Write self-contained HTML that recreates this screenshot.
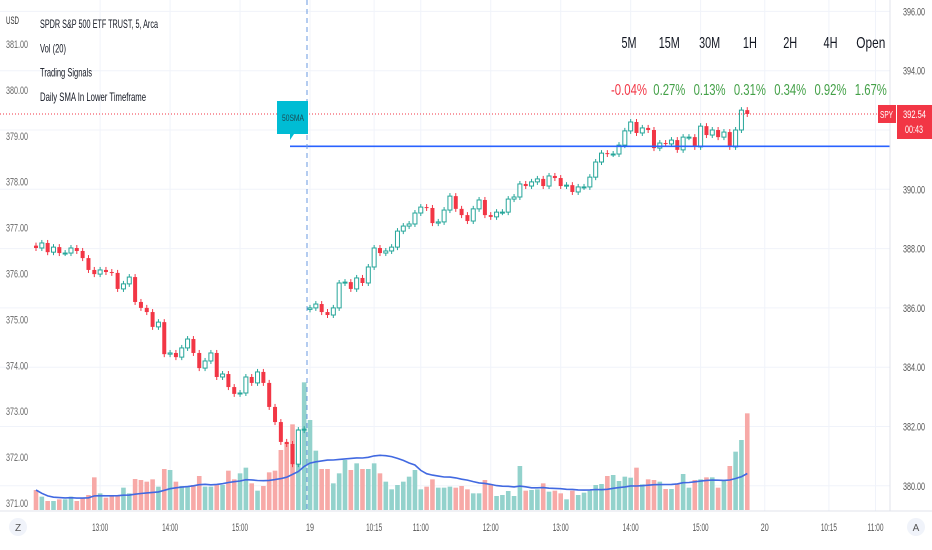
<!DOCTYPE html>
<html><head><meta charset="utf-8"><style>
html,body{margin:0;padding:0;background:#fff;width:932px;height:550px;overflow:hidden;font-family:"Liberation Sans",sans-serif}
svg{display:block}
</style></head><body>
<svg id="c" width="932" height="550" xmlns="http://www.w3.org/2000/svg"></svg>
<script>
const closes=[388.02,388.19,387.88,388.05,387.85,387.85,388.02,387.92,387.68,387.28,387.14,387.28,387.21,387.18,386.64,386.81,387.04,386.20,386.00,385.86,385.36,385.52,384.44,384.48,384.34,384.65,384.95,384.48,383.97,384.21,384.48,383.67,383.77,383.33,383.10,383.13,383.67,383.47,383.84,383.47,382.66,382.15,381.48,381.41,380.73,381.88,381.91,
386.00,386.13,385.86,385.76,386.00,386.84,386.87,386.64,387.01,386.84,387.38,388.02,387.85,387.92,388.05,388.59,388.76,388.83,389.20,389.40,389.37,388.86,388.90,389.30,389.77,389.34,389.13,388.93,389.34,389.64,389.13,389.07,389.23,389.23,389.67,389.74,390.18,390.11,390.25,390.35,390.11,390.45,390.38,390.11,390.14,389.91,390.08,390.08,390.41,390.92,391.22,391.19,391.19,391.49,391.97,392.27,391.90,392.07,392.00,391.39,391.56,391.53,391.66,391.33,391.76,391.76,391.43,392.13,391.83,392.00,391.76,391.93,391.43,392.00,392.67,392.54];
const firstOpen=388.1;
const day2Open=385.95;
const day2Index=47;
const volumes=[60,40,27,27,32,32,40,27,37,45,98,50,37,45,45,67,50,93,90,85,92,70,123,120,85,72,72,75,102,70,70,75,75,118,92,110,127,80,58,72,113,118,180,202,257,242,383,
270,178,123,123,80,110,150,120,140,123,123,140,110,85,62,75,85,100,120,62,70,92,67,67,70,67,72,62,50,50,90,78,42,45,57,42,132,58,60,62,80,55,58,50,32,58,45,52,58,75,78,102,105,87,100,97,127,77,92,90,85,63,63,78,108,67,90,92,98,98,67,90,132,175,210,290];
const rightTicks=[396,394,392,390,388,386,384,382,380];
const leftTicks=[381,380,379,378,377,376,375,374,373,372,371];
const timeLabels=["13:00","14:00","15:00","19","10:15","11:00","12:00","13:00","14:00","15:00","20","10:15","11:00"];
const timeSlots=[11,23,35,47,58,66,78,90,102,114,125,136,144];
const tfNames=["5M","15M","30M","1H","2H","4H","Open"];
const tfValues=[-0.04,0.27,0.13,0.31,0.34,0.92,1.67];
const smaLevel=391.45;
const lastPrice=392.54;

const NS="http://www.w3.org/2000/svg";
const svg=document.getElementById('c');
const y=p=>130-(p-392)*29.65;
const yl=p=>44+(381-p)*45.9;
const x=i=>36+i*5.83;
const vy=v=>510-v/3;
function el(tag,a,parent){const e=document.createElementNS(NS,tag);for(const k in a)e.setAttribute(k,a[k]);(parent||svg).appendChild(e);return e;}
function tx(s,a,parent,len){const e=el('text',a,parent);e.textContent=s;if(len){e.setAttribute('textLength',len);e.setAttribute('lengthAdjust','spacingAndGlyphs');}return e;}

// grid
const grid=el('g',{});


rightTicks.forEach(t=>el('line',{x1:0,x2:890,y1:y(t),y2:y(t),stroke:'#f0f3fa','stroke-width':1},grid));
timeSlots.forEach(s=>el('line',{x1:x(s),x2:x(s),y1:0,y2:511,stroke:'#f0f3fa','stroke-width':1},grid));

// volume
const vg=el('g',{});


const opens=closes.map((c,i)=>i===0?firstOpen:(i===day2Index?day2Open:closes[i-1]));
volumes.forEach((v,i)=>{const up=closes[i]>=opens[i];
 const r=el('rect',{x:x(i)-2.3,y:vy(v),width:4.6,height:v/3,fill:up?'#93d2cc':'#f7a9a7'},vg);
 
 });
let pts=[];
volumes.forEach((v,i)=>{const s=volumes.slice(Math.max(0,i-19),i+1);const m=s.reduce((a,b)=>a+b,0)/s.length;pts.push(x(i).toFixed(1)+','+vy(m).toFixed(1));});
const ma=el('polyline',{points:pts.join(' '),fill:'none',stroke:'#4169e1','stroke-width':1.6});



// candles
const cg=el('g',{});


closes.forEach((c,i)=>{const o=opens[i];const up=c>=o;const col=up?'#26a69a':'#f23645';
 const top=Math.min(y(o),y(c)),bot=Math.max(y(o),y(c));
 el('line',{x1:x(i),x2:x(i),y1:top-3,y2:bot+3,stroke:col,'stroke-width':1},cg);
 const r=el('rect',{x:x(i)-2,y:top,width:4,height:Math.max(1,bot-top),fill:up?'#fff':col,stroke:col,'stroke-width':up?1:0},cg);
 
 });

// lines
const dl=el('line',{x1:0,x2:890,y1:y(lastPrice),y2:y(lastPrice),stroke:'#f23645','stroke-width':1,'stroke-dasharray':'1,2'});


const sl=el('line',{x1:290,x2:890,y1:y(smaLevel),y2:y(smaLevel),stroke:'#2962ff','stroke-width':1.6});


const vl=el('line',{x1:307,x2:307,y1:0,y2:511,stroke:'#6a9ae0','stroke-width':1,'stroke-dasharray':'5,4'});


const lab=el('g',{});


el('path',{d:'M277,101 h31 v33 h-14 l-4,6 v-6 h-13 z',fill:'#00bcd4'},lab);
tx('50SMA',{x:282,y:121,'font-size':9,fill:'#1a4b55'},lab,22);

// axes
el('line',{x1:0,x2:932,y1:511,y2:511,stroke:'#e0e3eb'});
el('line',{x1:890,x2:890,y1:0,y2:511,stroke:'#e0e3eb'});
const ra=el('g',{'font-size':11,fill:'#555'});


rightTicks.forEach(t=>tx(t.toFixed(2),{x:903,y:y(t)+4},ra,22));
const la=el('g',{'font-size':11,fill:'#666'});


tx('USD',{x:6,y:24,fill:'#333'},la,13);
leftTicks.forEach(t=>tx(t.toFixed(2),{x:6,y:yl(t)+4},la,22));
const ta=el('g',{'font-size':11,fill:'#555','text-anchor':'middle'});


timeLabels.forEach((t,i)=>tx(t,{x:x(timeSlots[i]),y:531},ta,t.length>2?16:8));
el('circle',{cx:18,cy:527,r:9,fill:'#f0f3fa'});
tx('Z',{x:18,y:531,'font-size':10,fill:'#555','text-anchor':'middle'});
el('circle',{cx:916,cy:527,r:9,fill:'#f0f3fa'});
tx('A',{x:916,y:531,'font-size':10,fill:'#555','text-anchor':'middle'});

// price tag
const pt=el('g',{});


el('rect',{x:878,y:y(lastPrice)-9,width:18,height:18,fill:'#f23645'},pt);
tx('SPY',{x:880,y:y(lastPrice)+4,'font-size':10,fill:'#fff'},pt,13);
el('rect',{x:897,y:y(lastPrice)-9,width:35,height:34,fill:'#f23645'},pt);
tx(lastPrice.toFixed(2),{x:903,y:y(lastPrice)+4,'font-size':11,fill:'#fff'},pt,23);
tx('00:43',{x:905,y:y(lastPrice)+19,'font-size':11,fill:'#fff'},pt,18);

// legend
const lg=el('g',{'font-size':12,fill:'#131722'});


const legTexts=["SPDR S&P 500 ETF TRUST, 5, Arca","Vol (20)","Trading Signals","Daily SMA In Lower Timeframe"];
const legLens=[118,26,52,106];
legTexts.forEach((s,i)=>tx(s,{x:40,y:28+i*24.3},lg,legLens[i]));

// timeframe table
const tf=el('g',{});


const nameLens=[15,21,21,14,14,14,29];
tfNames.forEach((n,i)=>{const cx=629+i*40.3;
 tx(n,{x:cx-nameLens[i]/2,y:48,'font-size':16,fill:'#131722'},tf,nameLens[i]);
 const v=tfValues[i];
 const w=v<0?36:32;
 tx(v.toFixed(2)+'%',{x:cx-w/2,y:95,'font-size':16,fill:v<0?'#f23645':'#43a047'},tf,w);});
</script>
</body></html>
